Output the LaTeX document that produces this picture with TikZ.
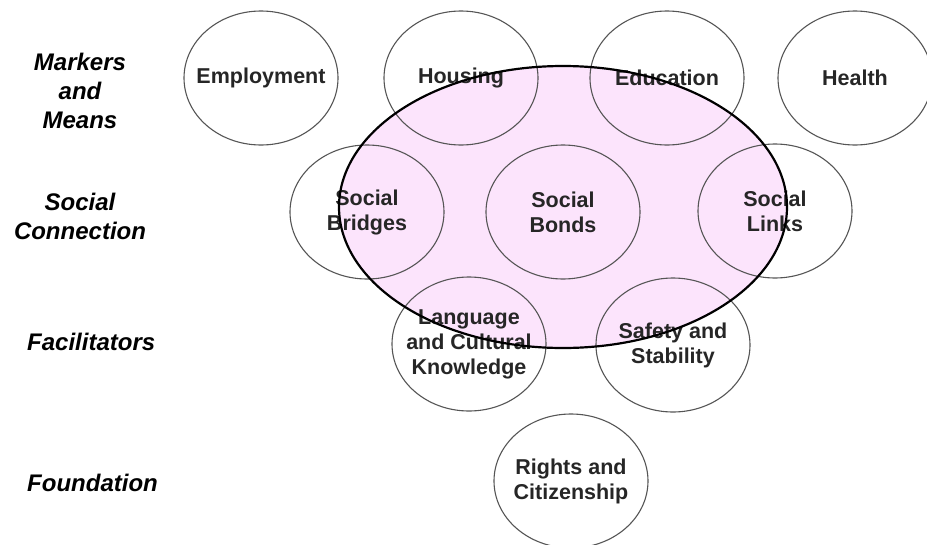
\documentclass[tikz,border=0pt]{standalone}
\usepackage{fontspec}
\setmainfont{Liberation Sans}
\usetikzlibrary{shapes.geometric}

\definecolor{hubpink}{HTML}{FCE4FC}
\definecolor{ringgray}{HTML}{555555}

\begin{document}
\begin{tikzpicture}[x=1pt, y=-1pt,
    ring/.style={draw=ringgray, line width=1.1pt},
    bubble/.style={align=center, inner sep=0pt, text=black!85,
      font=\fontsize{21.5}{25}\selectfont\bfseries},
    level/.style={align=center, inner sep=0pt,
      font=\fontsize{24}{29}\selectfont\bfseries\itshape}]
    \useasboundingbox (0,0) rectangle (927,544);

    \fill[hubpink] (563,207) ellipse [x radius=224pt, y radius=141pt];

    \foreach \n/\x/\y/\t in {emp/261/78/Employment, hous/461/78/Housing,
        edu/667/78/Education, health/855/78/Health,
        bridges/367/212/{Social\\Bridges}, bonds/563/212/{Social\\Bonds},
        links/775/211/{Social\\Links},
        lang/469/344/{Language\\and Cultural\\Knowledge},
        safety/673/345/{Safety and\\Stability},
        rights/571/481/{Rights and\\Citizenship}} {
      \node[bubble] (\n) at (\x,\y) {\t};
      \draw[ring] (\n) ellipse [x radius=77pt, y radius=67pt];
    }

    \draw[line width=2.2pt] (563,207) ellipse [x radius=224pt, y radius=141pt];

    \node[level] (markers) at (80,91) {Markers\\and\\Means};
    \node[level] (connection) at (80,216) {Social\\Connection};
    \node[level, anchor=west] (facil) at (27,342) {Facilitators};
    \node[level, anchor=west] (found) at (27,483) {Foundation};
\end{tikzpicture}
\end{document}
